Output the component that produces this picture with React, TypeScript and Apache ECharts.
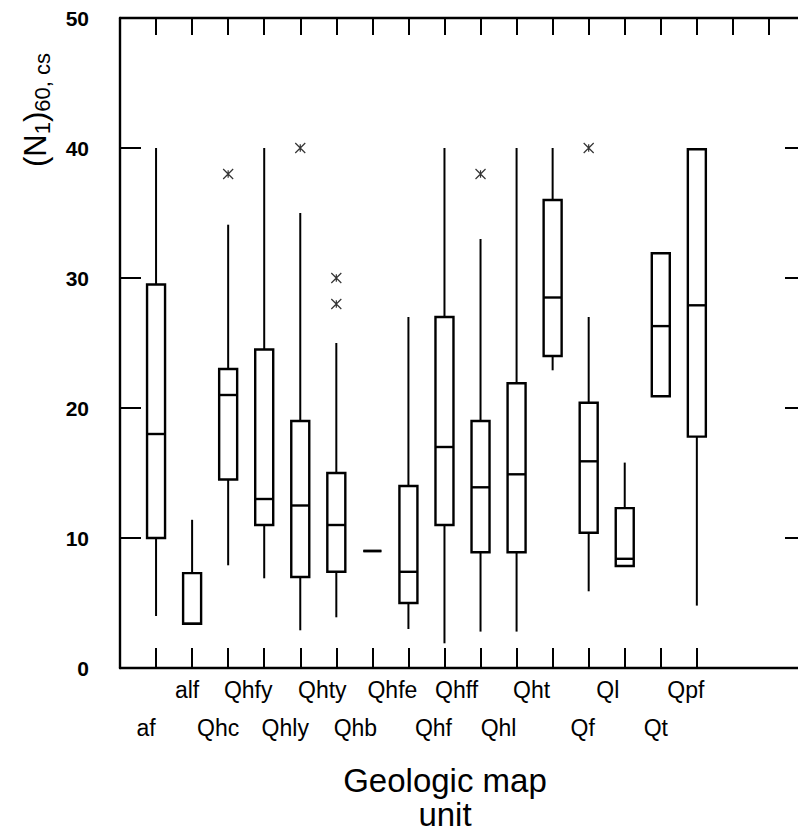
import React, { useEffect, useRef } from 'react';
import * as echarts from 'echarts';

// ---- data ----
const categories = ['af', 'alf', 'Qhc', 'Qhfy', 'Qhly', 'Qhty', 'Qhb', 'Qhfe', 'Qhf', 'Qhff', 'Qhl', 'Qht', 'Qf', 'Ql', 'Qt', 'Qpf'];
const whiskerLow = [4, 3.4, 7.9, 6.9, 2.9, 3.9, 9, 3, 1.9, 2.8, 2.8, 22.9, 5.9, 7.85, 20.9, 4.8];
const quartile1 = [10, 3.4, 14.5, 11, 7, 7.4, 9, 5, 11, 8.9, 8.9, 24, 10.4, 7.85, 20.9, 17.8];
const medians = [18, 3.4, 21, 13, 12.5, 11, 9, 7.4, 17, 13.9, 14.9, 28.5, 15.9, 8.4, 26.3, 27.9];
const quartile3 = [29.5, 7.3, 23, 24.5, 19, 15, 9, 14, 27, 19, 21.9, 36, 20.4, 12.3, 31.9, 39.9];
const whiskerHigh = [40, 11.4, 34.1, 40, 35, 25, 9, 27, 40, 33, 40, 40, 27, 15.8, 31.9, 39.9];
const outlierUnits = ['Qhc', 'Qhly', 'Qhty', 'Qhty', 'Qhff', 'Qf'];
const outlierValues = [38, 40, 28, 30, 38, 40];
const yMin = 0;
const yMax = 50;
const yInterval = 10;

// ---- axis slots (empty slots before and after the units) ----
const axisSlots = [' ', ...categories, '  ', '   ', '    '];

// ---- label styling (horizontal nudge, px, to the left) ----
const labelShift = [10, 5, 10, 16, 15, 14, 17, 16, 11, 24, 18, 21, 6, 17, 5, 11];

const FONT = 'Liberation Sans, Arial, Helvetica, sans-serif';
const BOX_W = 18;

export default function App() {
  const ref = useRef<HTMLDivElement>(null);

  useEffect(() => {
    if (!ref.current) return;
    const chart = echarts.init(ref.current, undefined, { renderer: 'svg' });

    const boxData = categories.map((c, i) => [c, whiskerLow[i], quartile1[i], medians[i], quartile3[i], whiskerHigh[i]]);
    const outlierData = outlierUnits.map((u, i) => [u, outlierValues[i]]);

    const rich: Record<string, any> = {};
    categories.forEach((_, i) => {
      rich['c' + i] = {
        fontFamily: FONT,
        fontSize: 23,
        color: '#000',
        lineHeight: i % 2 === 0 ? 101 : 25,
        padding: [0, 2 * labelShift[i], 0, 0],
      };
    });

    const lineStyle = { color: '#000', width: 2.4 };

    chart.setOption({
      animation: false,
      backgroundColor: '#fff',
      grid: { left: 120, top: 18, width: 685, height: 650, containLabel: false },
      xAxis: [
        {
          type: 'category',
          data: axisSlots,
          boundaryGap: false,
          position: 'bottom',
          axisLine: { show: true, onZero: false, lineStyle },
          axisTick: {
            show: true,
            inside: true,
            length: 20,
            lineStyle: { color: '#000', width: 2 },
            interval: (idx: number) => idx >= 1 && idx <= categories.length,
          },
          axisLabel: {
            interval: 0,
            margin: 9,
            formatter: (value: string) => {
              const i = categories.indexOf(value);
              return i < 0 ? '' : `{c${i}|${value}}`;
            },
            rich,
          },
          splitLine: { show: false },
        },
        {
          type: 'category',
          data: axisSlots,
          boundaryGap: false,
          position: 'top',
          axisLine: { show: true, onZero: false, lineStyle },
          axisTick: {
            show: true,
            inside: true,
            length: 17,
            lineStyle: { color: '#000', width: 2 },
            interval: (idx: number) => idx >= 1 && idx <= axisSlots.length - 2,
          },
          axisLabel: { show: false },
          splitLine: { show: false },
        },
      ],
      yAxis: [
        {
          type: 'value',
          min: yMin,
          max: yMax,
          interval: yInterval,
          position: 'left',
          axisLine: { show: true, onZero: false, lineStyle },
          axisTick: { show: true, inside: true, length: 21, lineStyle: { color: '#000', width: 2 } },
          axisLabel: { margin: 31, fontFamily: FONT, fontSize: 21, fontWeight: 'bold', color: '#000' },
          splitLine: { show: false },
        },
        {
          type: 'value',
          min: yMin,
          max: yMax,
          interval: yInterval,
          position: 'right',
          axisLine: { show: true, onZero: false, lineStyle },
          axisTick: { show: true, inside: true, length: 20, lineStyle: { color: '#000', width: 2 } },
          axisLabel: { show: false },
          splitLine: { show: false },
        },
      ],
      series: [
        {
          type: 'custom',
          name: 'box',
          xAxisIndex: 0,
          yAxisIndex: 0,
          data: boxData,
          encode: { x: 0, y: [1, 2, 3, 4, 5] },
          renderItem: (params: any, api: any) => {
            const x = api.value(0);
            const pMin = api.coord([x, api.value(1)]);
            const pQ1 = api.coord([x, api.value(2)]);
            const pMed = api.coord([x, api.value(3)]);
            const pQ3 = api.coord([x, api.value(4)]);
            const pMax = api.coord([x, api.value(5)]);
            const cx = pMin[0];
            const half = BOX_W / 2;
            const thin = { stroke: '#000', lineWidth: 2 };
            const thick = { stroke: '#000', lineWidth: 2.4 };
            const children: any[] = [];
            if (pMax[1] < pQ3[1] - 0.5) {
              children.push({ type: 'line', shape: { x1: cx, y1: pQ3[1], x2: cx, y2: pMax[1] }, style: thin });
            }
            if (pMin[1] > pQ1[1] + 0.5) {
              children.push({ type: 'line', shape: { x1: cx, y1: pQ1[1], x2: cx, y2: pMin[1] }, style: thin });
            }
            children.push({
              type: 'rect',
              shape: { x: cx - half, y: pQ3[1], width: 2 * half, height: pQ1[1] - pQ3[1] },
              style: { fill: '#fff', stroke: '#000', lineWidth: 2.4 },
            });
            children.push({ type: 'line', shape: { x1: cx - half, y1: pMed[1], x2: cx + half, y2: pMed[1] }, style: thick });
            return { type: 'group', children };
          },
          z: 2,
        },
        {
          type: 'scatter',
          name: 'outliers',
          xAxisIndex: 0,
          yAxisIndex: 0,
          data: outlierData,
          symbol: 'path://M0,0L8,8M8,0L0,8M4,1L4,7',
          symbolSize: 10,
          itemStyle: { color: 'none', borderColor: '#000', borderWidth: 1.2 },
          z: 3,
        },
      ],
      graphic: [
        {
          type: 'text',
          x: 35,
          y: 110,
          rotation: Math.PI / 2,
          style: {
            text: '{a|(N}{b|1}{a|)}{b|60, cs}',
            align: 'center',
            verticalAlign: 'middle',
            fill: '#000',
            rich: {
              a: { fontFamily: FONT, fontSize: 31, lineHeight: 37, fill: '#000' },
              b: { fontFamily: FONT, fontSize: 22, lineHeight: 22, verticalAlign: 'bottom', fill: '#000' },
            },
          },
        },
        {
          type: 'text',
          x: 445,
          y: 797,
          style: {
            text: 'Geologic map\nunit',
            fontFamily: FONT,
            fontSize: 33,
            lineHeight: 34,
            align: 'center',
            verticalAlign: 'middle',
            fill: '#000',
          },
        },
      ],
    });

    return () => chart.dispose();
  }, []);

  return (
    <div style={{ position: 'fixed', left: 0, top: 0, width: 798, height: 837, overflow: 'hidden', background: '#fff' }}>
      <div ref={ref} style={{ width: 830, height: 837 }} />
    </div>
  );
}
